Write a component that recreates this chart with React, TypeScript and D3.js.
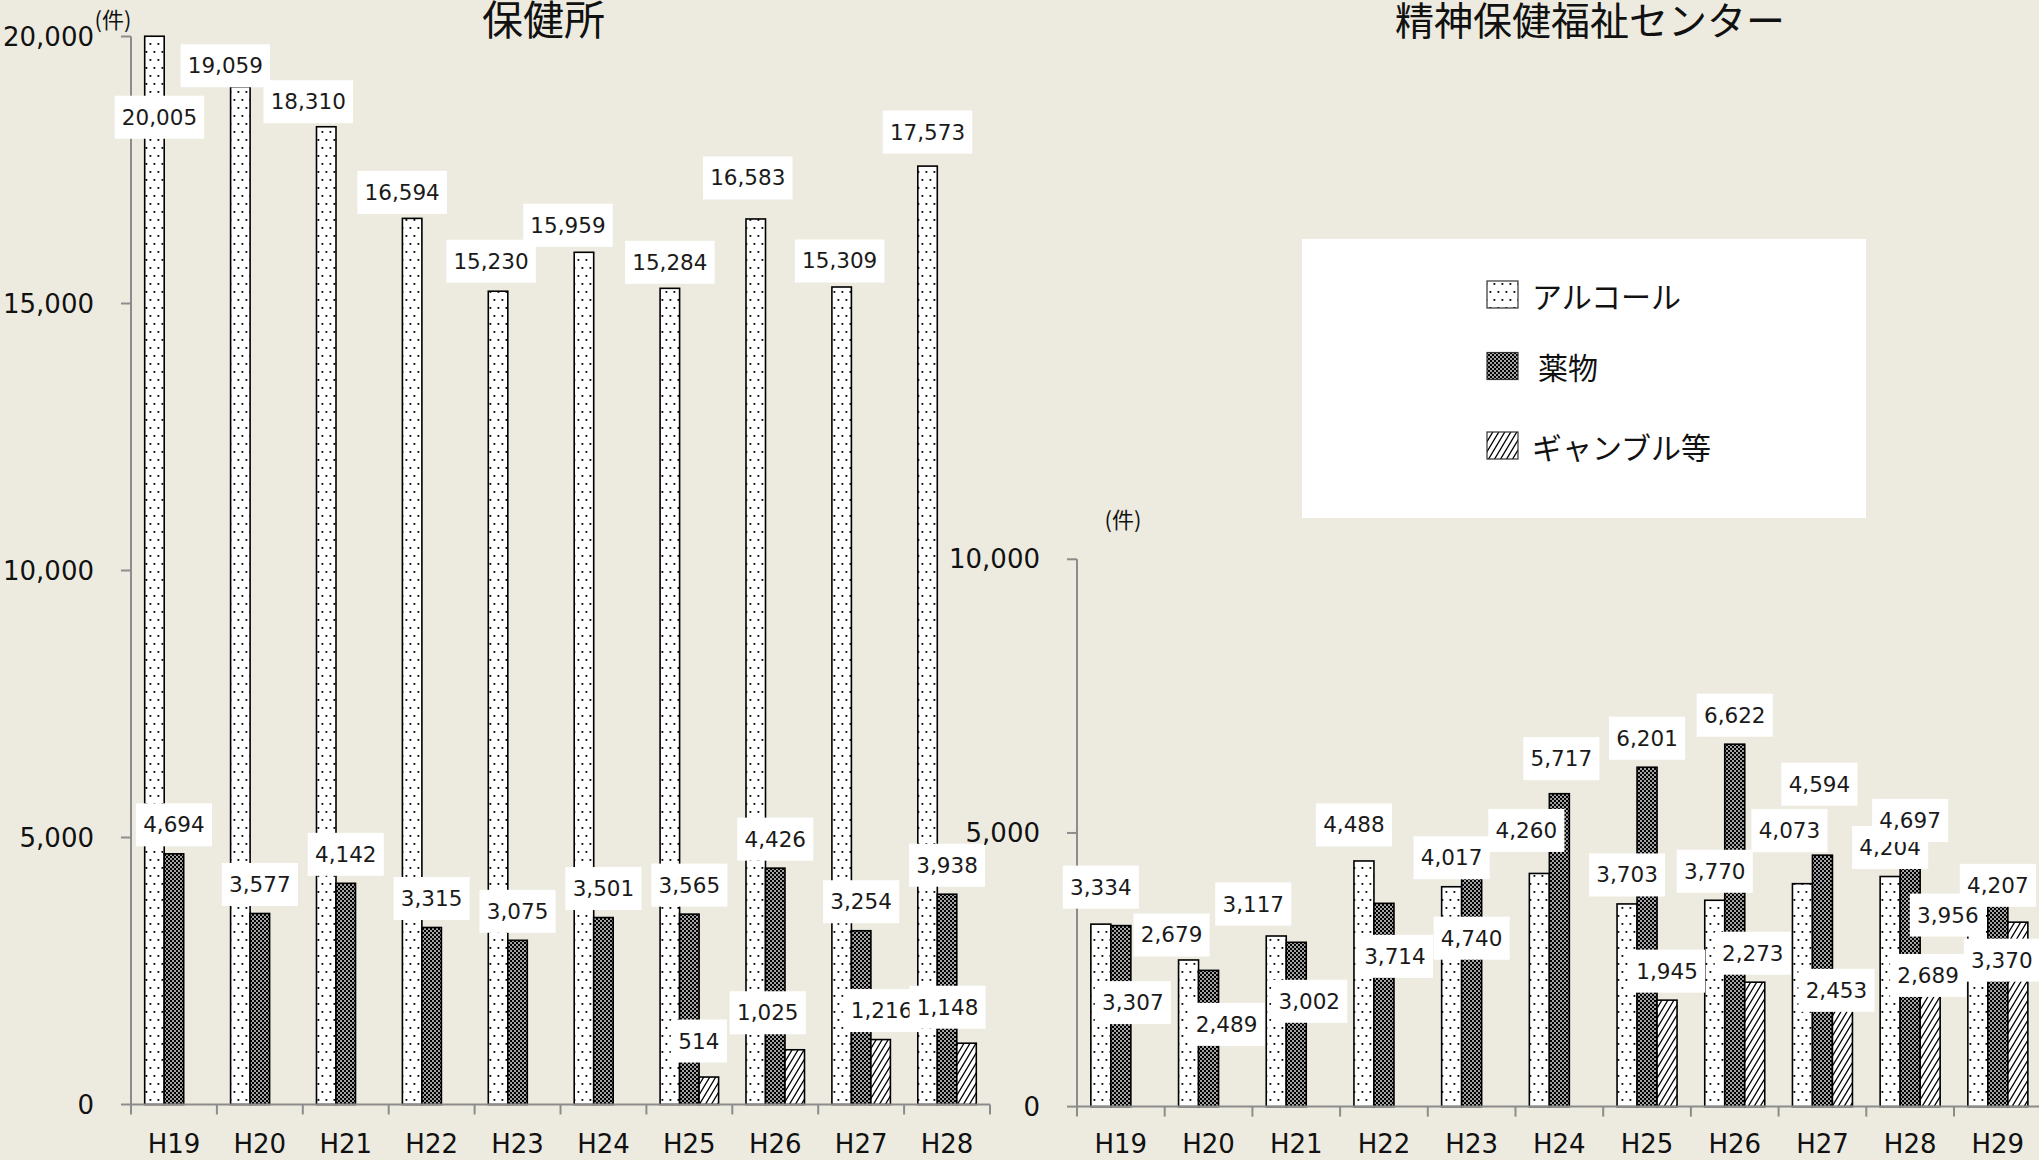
import React from 'react'
import * as d3 from 'd3'

// 保健所
const yearsHC = ['H19', 'H20', 'H21', 'H22', 'H23', 'H24', 'H25', 'H26', 'H27', 'H28']
const hcAlcohol = [20005, 19059, 18310, 16594, 15230, 15959, 15284, 16583, 15309, 17573]
const hcDrug = [4694, 3577, 4142, 3315, 3075, 3501, 3565, 4426, 3254, 3938]
const hcGamble = [null, null, null, null, null, null, 514, 1025, 1216, 1148]

// 精神保健福祉センター
const yearsMH = ['H19', 'H20', 'H21', 'H22', 'H23', 'H24', 'H25', 'H26', 'H27', 'H28', 'H29']
const mhAlcohol = [3334, 2679, 3117, 4488, 4017, 4260, 3703, 3770, 4073, 4204, 3956]
const mhDrug = [3307, 2489, 3002, 3714, 4740, 5717, 6201, 6622, 4594, 4697, 4207]
const mhGamble = [null, null, null, null, null, null, 1945, 2273, 2453, 2689, 3370]

const seriesNames = ['アルコール', '薬物', 'ギャンブル等']
const ticksHC = [0, 5000, 10000, 15000, 20000]
const ticksMH = [0, 5000, 10000]

// data labels were dragged around by hand in the original: [dx, dy] px from the default spot
const z = [0, 0]
const nudgeHC = [
  [[5, 110], [-15, 8], [-18, 4], [-10, 3], [-7, -1], [-16, 2], [0, 3], [-8, -12], [-2, 3], [0, -5]],
  [z, z, z, z, z, z, z, z, z, z],
  [z, z, z, z, z, z, [-10, -7], [-27, -8], [1, 0], [-19, -7]],
]
const nudgeMH = [
  [[0, -8], [-17, 4], [-23, -3], [-10, -7], z, [-13, -14], z, z, [-13, -24], z, [-30, 54]],
  [[12, 106], [18, 83], [13, 88], [11, 82], [0, 120], [2, -6], z, z, [-3, -42], z, [0, 38]],
  [z, z, z, z, z, z, z, [-2, 0], [-6, 47], [-2, 45], [-16, 67]],
]

const patterns = ['url(#pDots)', 'url(#pCheck)', 'url(#pDiag)']
const numFont = "'DejaVu Sans', sans-serif"
const jpFont = "'Noto Sans CJK JP', sans-serif"
const axisColor = '#8c8c8c'
const fmt = d3.format(',')

const labelW = (s: string) =>
  s.split('').reduce((w, c) => w + (c === ',' ? 0.318 : 0.636), 0) * 21 + 16

function Panel({ years, series, nudges, ticks, maxY, x0, x1, y0, y1, barW, tickLabelX }) {
  const x = d3.scaleBand().domain(years).range([x0, x1])
  const sub = d3.scaleBand().domain(['0', '1', '2']).range([-1.5 * barW, 1.5 * barW])
  const y = d3.scaleLinear().domain([0, maxY]).range([y0, y1])
  const bw = x.bandwidth()
  const barX = (yr, k) => x(yr) + bw / 2 + sub(String(k))

  return (
    <g>
      {series.map((vals, k) =>
        vals.map((v, i) =>
          v == null ? null : (
            <rect key={`b${k}-${i}`} x={barX(years[i], k)} y={y(v)} width={barW}
              height={y(0) - y(v)} fill={patterns[k]} stroke="#000" strokeWidth={1.6} />
          )
        )
      )}

      {/* y axis */}
      <line x1={x0} x2={x0} y1={y(0)} y2={y(maxY)} stroke={axisColor} strokeWidth={2} />
      {ticks.map((t) => (
        <g key={t}>
          <line x1={x0 - 10} x2={x0} y1={y(t)} y2={y(t)} stroke={axisColor} strokeWidth={2} />
          <text x={tickLabelX} y={y(t)} textAnchor="end" dominantBaseline="central"
            fontFamily={numFont} fontSize={26} fill="#111">{fmt(t)}</text>
        </g>
      ))}

      {/* x axis */}
      <line x1={x0} x2={x1} y1={y(0)} y2={y(0)} stroke={axisColor} strokeWidth={2} />
      {d3.range(years.length + 1).map((i) => (
        <line key={i} x1={x0 + i * bw} x2={x0 + i * bw} y1={y(0)} y2={y(0) + 10}
          stroke={axisColor} strokeWidth={2} />
      ))}
      {years.map((yr) => (
        <text key={yr} x={x(yr) + bw / 2} y={1144} textAnchor="middle" dominantBaseline="central"
          fontFamily={numFont} fontSize={26} fill="#111">{yr}</text>
      ))}

      {/* data labels */}
      {series.map((vals, k) =>
        vals.map((v, i) => {
          if (v == null) return null
          const s = fmt(v)
          const w = labelW(s)
          const [dx, dy] = nudges[k][i]
          const cx = barX(years[i], k) + barW / 2 + dx
          const cy = y(v) - 29 + dy
          return (
            <g key={`l${k}-${i}`}>
              <rect x={cx - w / 2} y={cy - 21.5} width={w} height={43} fill="#fff" />
              <text x={cx} y={cy} textAnchor="middle" dominantBaseline="central"
                fontFamily={numFont} fontSize={21.5} fill="#1a1a1a">{s}</text>
            </g>
          )
        })
      )}
    </g>
  )
}

export default function App() {
  const legendY = [294.5, 366, 445.5]
  return (
    <>
      <style>{'body{margin:0}'}</style>
      <svg width={2039} height={1160} style={{ display: 'block' }}>
        <defs>
          <pattern id="pDots" patternUnits="userSpaceOnUse" width={8} height={16}>
            <rect width={8} height={16} fill="#fff" />
            <rect x={1.5} y={3} width={1.8} height={1.8} fill="#000" />
            <rect x={5.5} y={11} width={1.8} height={1.8} fill="#000" />
          </pattern>
          <pattern id="pCheck" patternUnits="userSpaceOnUse" width={4} height={4}>
            <rect width={4} height={4} fill="#000" />
            <rect x={0.2} y={0.2} width={1.6} height={1.6} fill="#fff" />
            <rect x={2.2} y={2.2} width={1.6} height={1.6} fill="#fff" />
          </pattern>
          <pattern id="pDiag" patternUnits="userSpaceOnUse" width={6} height={10}>
            <rect width={6} height={10} fill="#fff" />
            <path d="M-3,5 L3,-5 M0,10 L6,0 M3,15 L9,5" stroke="#000" strokeWidth={1.3} />
          </pattern>
        </defs>

        <rect width={2039} height={1160} fill="#edebe0" />

        <text x={543.5} y={35} textAnchor="middle" fontFamily={jpFont} fontSize={41} fill="#111">保健所</text>
        <text x={1590} y={35} textAnchor="middle" fontFamily={jpFont} fontSize={39} fill="#111">精神保健福祉センター</text>

        <text x={113} y={18} textAnchor="middle" dominantBaseline="central" fontFamily={jpFont} fontSize={22} fill="#111">(件)</text>
        <text x={1123} y={518} textAnchor="middle" dominantBaseline="central" fontFamily={jpFont} fontSize={22} fill="#111">(件)</text>

        <Panel years={yearsHC} series={[hcAlcohol, hcDrug, hcGamble]} nudges={nudgeHC}
          ticks={ticksHC} maxY={20000} x0={131} x1={990} y0={1104.5} y1={36.5}
          barW={19.5} tickLabelX={94} />

        <Panel years={yearsMH} series={[mhAlcohol, mhDrug, mhGamble]} nudges={nudgeMH}
          ticks={ticksMH} maxY={10000} x0={1077} x1={2041.7} y0={1106.6} y1={559.3}
          barW={20} tickLabelX={1040} />

        {/* legend */}
        <rect x={1302} y={239} width={564} height={279} fill="#fff" />
        {seriesNames.map((name, k) => (
          <g key={name}>
            <rect x={1487} y={legendY[k] - 13.5} width={31} height={27} fill={patterns[k]}
              stroke="#333" strokeWidth={1.2} />
            <text x={k === 1 ? 1538 : 1532} y={legendY[k]} dominantBaseline="central"
              fontFamily={jpFont} fontSize={30} fill="#111">{name}</text>
          </g>
        ))}
      </svg>
    </>
  )
}
